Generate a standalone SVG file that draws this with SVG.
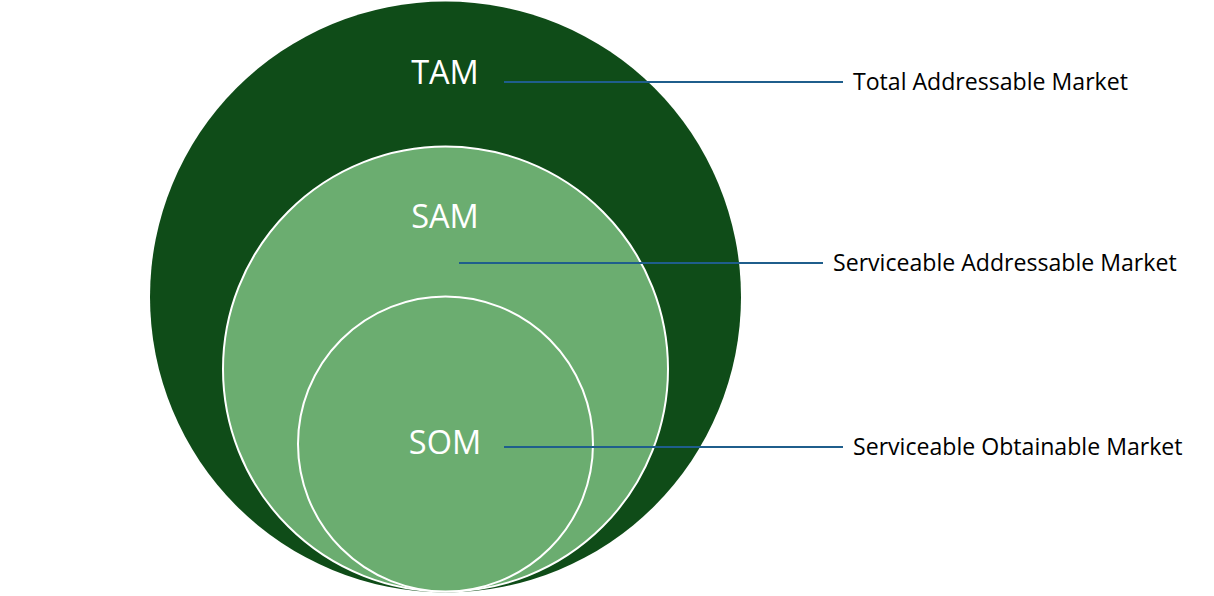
<svg xmlns="http://www.w3.org/2000/svg" width="1214" height="596" viewBox="0 0 1214 596">
<style>
.c{stroke:#ffffff;stroke-width:2}
.big{fill:#ffffff;font-family:"Open Sans","Liberation Sans",sans-serif;font-size:32.5px;text-anchor:middle}
.lbl{fill:#000000;font-family:"Open Sans","Liberation Sans",sans-serif;font-size:23.1px}
.ln{stroke:#1F5E8C;stroke-width:2;fill:none}
</style>
<rect width="1214" height="596" fill="#ffffff"/>
<g id="tam">
<circle cx="445.5" cy="297" r="295.5" fill="#0F4C18"/>
<text class="big" x="445" y="84">TAM</text>
</g>
<g id="sam">
<circle class="c" cx="445.5" cy="369" r="222.5" fill="#6BAD70"/>
<text class="big" x="445" y="228">SAM</text>
</g>
<g id="som">
<circle class="c" cx="445.5" cy="444" r="147.5" fill="#6BAD70"/>
<text class="big" x="445" y="454">SOM</text>
</g>
<g id="connectors">
<line class="ln" x1="504" y1="82" x2="843" y2="82"/>
<line class="ln" x1="459" y1="263" x2="823" y2="263"/>
<line class="ln" x1="504" y1="447" x2="843" y2="447"/>
</g>
<g id="labels">
<text class="lbl" x="853" y="90">Total Addressable Market</text>
<text class="lbl" x="833" y="271">Serviceable Addressable Market</text>
<text class="lbl" x="853" y="455">Serviceable Obtainable Market</text>
</g>
</svg>
